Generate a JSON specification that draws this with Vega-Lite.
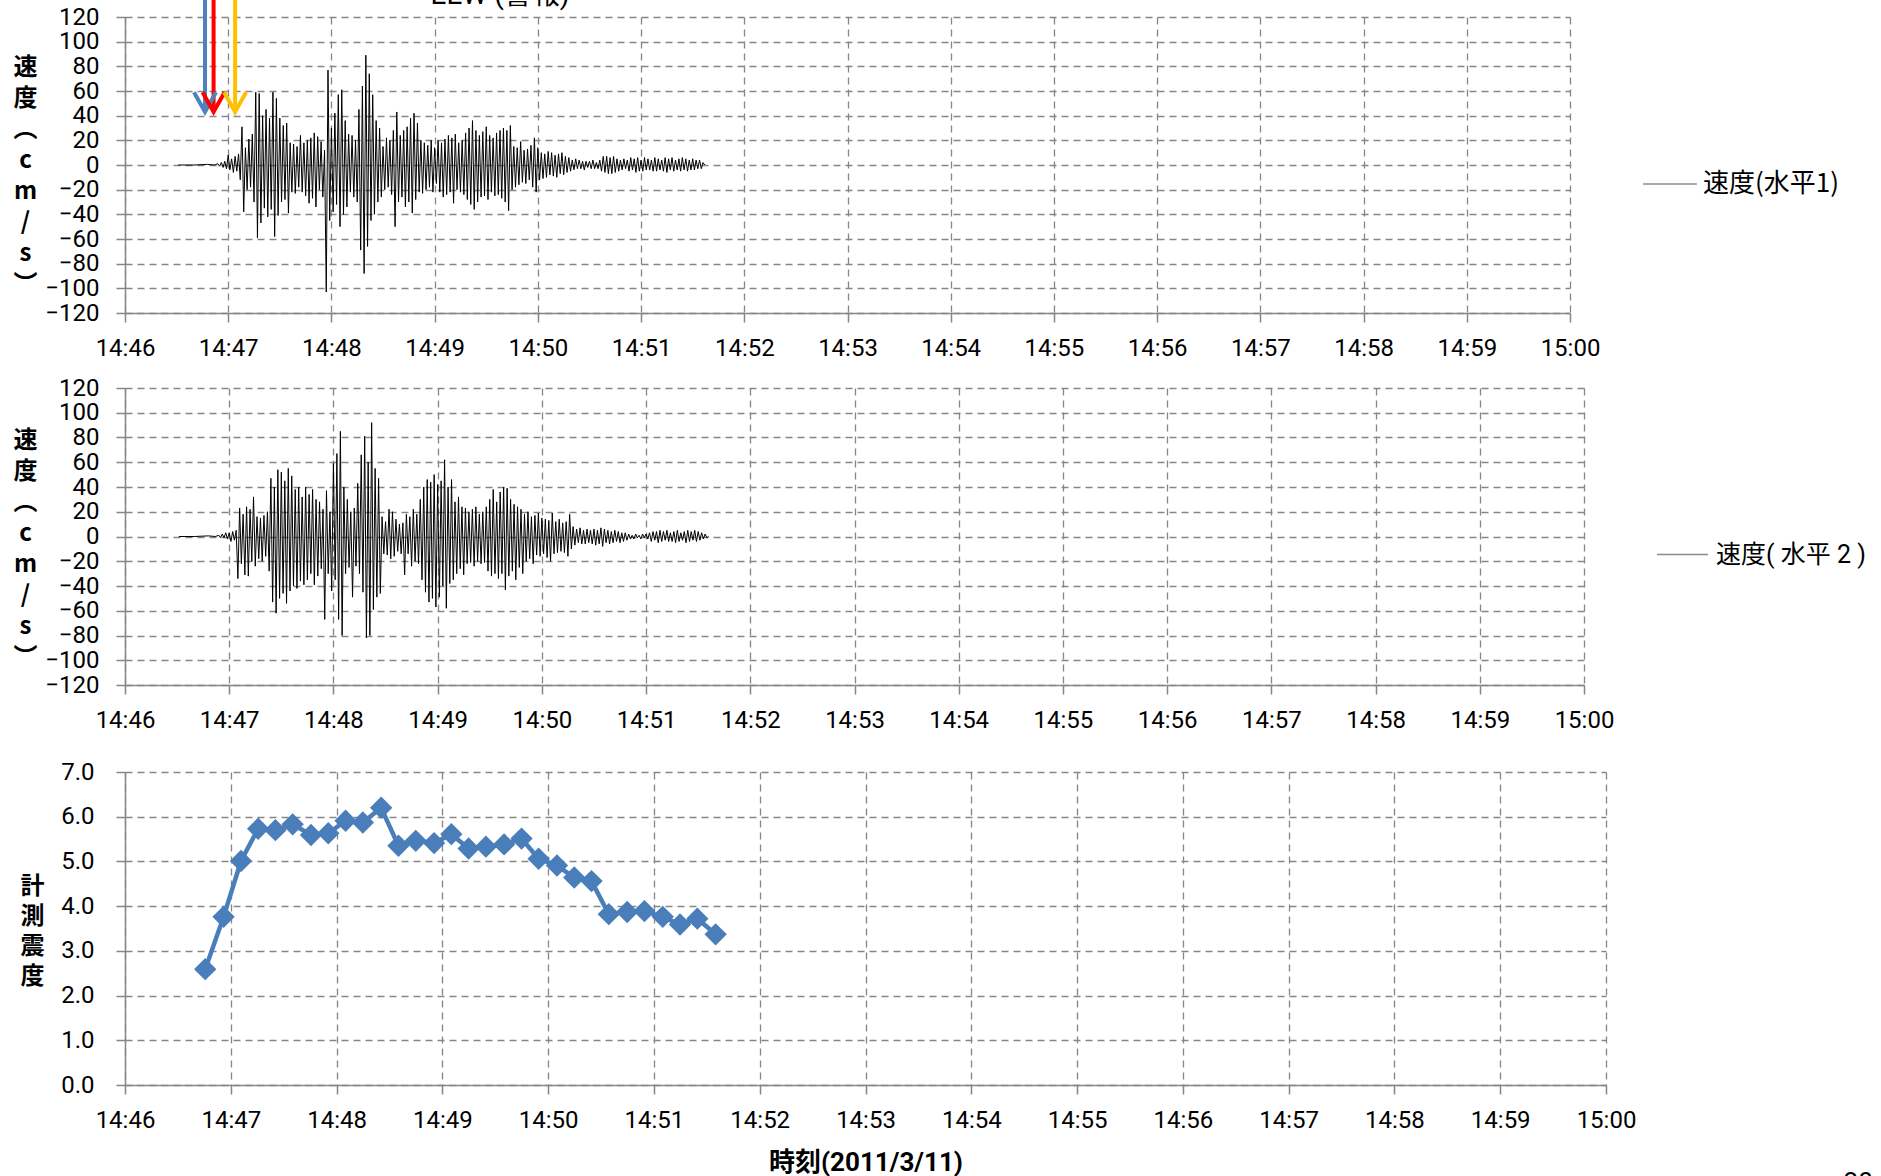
{
"$schema": "https://vega.github.io/schema/vega-lite/v6.json",
"padding": {"left": 13, "top": -35, "right": 0, "bottom": 0},
"spacing": 15,
"columns": 1,
"align": "none",
"datasets": {
"h1": [{"t":31,"v":0},{"t":40,"v":0},{"t":48,"v":0.5},{"t":52,"v":0},{"t":54,"v":1},{"t":55,"v":-1},{"t":56,"v":2},{"t":57,"v":-2},{"t":58,"v":3},{"t":59,"v":-3},{"t":60,"v":8},{"t":61,"v":-4},{"t":62,"v":5},{"t":63,"v":-6},{"t":64,"v":7},{"t":65,"v":-5},{"t":66,"v":9},{"t":67,"v":-12},{"t":68,"v":31},{"t":69,"v":-38},{"t":70,"v":14},{"t":71,"v":-20},{"t":72,"v":21},{"t":73,"v":-18},{"t":74,"v":25},{"t":75,"v":-30},{"t":76,"v":59},{"t":77,"v":-59},{"t":78,"v":58},{"t":79,"v":-47},{"t":80,"v":40},{"t":81,"v":-35},{"t":82,"v":45},{"t":83,"v":-42},{"t":84,"v":38},{"t":85,"v":-36},{"t":86,"v":59},{"t":87,"v":-58},{"t":88,"v":54},{"t":89,"v":-41},{"t":90,"v":38},{"t":91,"v":-30},{"t":92,"v":32},{"t":93,"v":-28},{"t":94,"v":34},{"t":95,"v":-39},{"t":96,"v":18},{"t":97,"v":-22},{"t":98,"v":17},{"t":99,"v":-23},{"t":100,"v":15},{"t":101,"v":-18},{"t":102,"v":24},{"t":103,"v":-22},{"t":104,"v":18},{"t":105,"v":-25},{"t":106,"v":20},{"t":107,"v":-31},{"t":108,"v":22},{"t":109,"v":-27},{"t":110,"v":26},{"t":111,"v":-34},{"t":112,"v":23},{"t":113,"v":-20},{"t":114,"v":19},{"t":115,"v":-26},{"t":116,"v":12},{"t":117,"v":-103},{"t":118,"v":77},{"t":119,"v":-45},{"t":120,"v":30},{"t":121,"v":-38},{"t":122,"v":42},{"t":123,"v":-32},{"t":124,"v":57},{"t":125,"v":-50},{"t":126,"v":61},{"t":127,"v":-40},{"t":128,"v":36},{"t":129,"v":-34},{"t":130,"v":25},{"t":131,"v":-22},{"t":132,"v":24},{"t":133,"v":-26},{"t":134,"v":20},{"t":135,"v":-30},{"t":136,"v":45},{"t":137,"v":-69},{"t":138,"v":64},{"t":139,"v":-88},{"t":140,"v":89},{"t":141,"v":-66},{"t":142,"v":74},{"t":143,"v":-45},{"t":144,"v":57},{"t":145,"v":-40},{"t":146,"v":36},{"t":147,"v":-30},{"t":148,"v":30},{"t":149,"v":-26},{"t":150,"v":15},{"t":151,"v":-20},{"t":152,"v":22},{"t":153,"v":-18},{"t":154,"v":20},{"t":155,"v":-24},{"t":156,"v":28},{"t":157,"v":-50},{"t":158,"v":43},{"t":159,"v":-30},{"t":160,"v":24},{"t":161,"v":-26},{"t":162,"v":28},{"t":163,"v":-34},{"t":164,"v":31},{"t":165,"v":-30},{"t":166,"v":38},{"t":167,"v":-39},{"t":168,"v":42},{"t":169,"v":-28},{"t":170,"v":34},{"t":171,"v":-22},{"t":172,"v":20},{"t":173,"v":-23},{"t":174,"v":18},{"t":175,"v":-20},{"t":176,"v":16},{"t":177,"v":-18},{"t":178,"v":20},{"t":179,"v":-22},{"t":180,"v":14},{"t":181,"v":-15},{"t":182,"v":20},{"t":183,"v":-22},{"t":184,"v":18},{"t":185,"v":-26},{"t":186,"v":21},{"t":187,"v":-24},{"t":188,"v":24},{"t":189,"v":-22},{"t":190,"v":22},{"t":191,"v":-31},{"t":192,"v":25},{"t":193,"v":-20},{"t":194,"v":18},{"t":195,"v":-22},{"t":196,"v":20},{"t":197,"v":-24},{"t":198,"v":26},{"t":199,"v":-28},{"t":200,"v":30},{"t":201,"v":-32},{"t":202,"v":36},{"t":203,"v":-36},{"t":204,"v":28},{"t":205,"v":-30},{"t":206,"v":24},{"t":207,"v":-26},{"t":208,"v":27},{"t":209,"v":-25},{"t":210,"v":31},{"t":211,"v":-28},{"t":212,"v":24},{"t":213,"v":-22},{"t":214,"v":22},{"t":215,"v":-25},{"t":216,"v":26},{"t":217,"v":-24},{"t":218,"v":28},{"t":219,"v":-27},{"t":220,"v":30},{"t":221,"v":-30},{"t":222,"v":28},{"t":223,"v":-37},{"t":224,"v":32},{"t":225,"v":-20},{"t":226,"v":15},{"t":227,"v":-18},{"t":228,"v":14},{"t":229,"v":-16},{"t":230,"v":19},{"t":231,"v":-14},{"t":232,"v":12},{"t":233,"v":-15},{"t":234,"v":13},{"t":235,"v":-12},{"t":236,"v":16},{"t":237,"v":-18},{"t":238,"v":22},{"t":239,"v":-22},{"t":240,"v":14},{"t":241,"v":-12},{"t":242,"v":10},{"t":243,"v":-11},{"t":244,"v":9},{"t":245,"v":-10},{"t":246,"v":11},{"t":247,"v":-8},{"t":248,"v":10},{"t":249,"v":-9},{"t":250,"v":8},{"t":251,"v":-10},{"t":252,"v":9},{"t":253,"v":-7},{"t":254,"v":10},{"t":255,"v":-8},{"t":256,"v":7},{"t":257,"v":-6},{"t":258,"v":6},{"t":259,"v":-5},{"t":260,"v":4},{"t":261,"v":-4},{"t":262,"v":5},{"t":263,"v":-3},{"t":264,"v":4},{"t":265,"v":-3},{"t":266,"v":3},{"t":267,"v":-4},{"t":268,"v":3},{"t":269,"v":-2},{"t":270,"v":3},{"t":271,"v":-3},{"t":272,"v":4},{"t":273,"v":-3},{"t":274,"v":2},{"t":275,"v":-3},{"t":276,"v":4},{"t":277,"v":-5},{"t":278,"v":7},{"t":279,"v":-6},{"t":280,"v":7},{"t":281,"v":-7},{"t":282,"v":6},{"t":283,"v":-7},{"t":284,"v":7},{"t":285,"v":-6},{"t":286,"v":5},{"t":287,"v":-5},{"t":288,"v":4},{"t":289,"v":-4},{"t":290,"v":5},{"t":291,"v":-3},{"t":292,"v":4},{"t":293,"v":-5},{"t":294,"v":6},{"t":295,"v":-4},{"t":296,"v":5},{"t":297,"v":-6},{"t":298,"v":6},{"t":299,"v":-5},{"t":300,"v":4},{"t":301,"v":-5},{"t":302,"v":6},{"t":303,"v":-4},{"t":304,"v":5},{"t":305,"v":-4},{"t":306,"v":4},{"t":307,"v":-5},{"t":308,"v":6},{"t":309,"v":-5},{"t":310,"v":5},{"t":311,"v":-4},{"t":312,"v":4},{"t":313,"v":-5},{"t":314,"v":6},{"t":315,"v":-6},{"t":316,"v":5},{"t":317,"v":-4},{"t":318,"v":6},{"t":319,"v":-5},{"t":320,"v":4},{"t":321,"v":-4},{"t":322,"v":5},{"t":323,"v":-5},{"t":324,"v":6},{"t":325,"v":-4},{"t":326,"v":5},{"t":327,"v":-5},{"t":328,"v":4},{"t":329,"v":-4},{"t":330,"v":5},{"t":331,"v":-4},{"t":332,"v":4},{"t":333,"v":-3},{"t":334,"v":4},{"t":335,"v":-3},{"t":336,"v":2},{"t":337,"v":0}],
"h2": [{"t":31,"v":0},{"t":40,"v":0},{"t":48,"v":0.5},{"t":52,"v":0},{"t":54,"v":1},{"t":55,"v":-1},{"t":56,"v":2},{"t":57,"v":-1},{"t":58,"v":3},{"t":59,"v":-2},{"t":60,"v":3},{"t":61,"v":-4},{"t":62,"v":4},{"t":63,"v":-3},{"t":64,"v":5},{"t":65,"v":-34},{"t":66,"v":23},{"t":67,"v":-22},{"t":68,"v":18},{"t":69,"v":-31},{"t":70,"v":24},{"t":71,"v":-32},{"t":72,"v":22},{"t":73,"v":-20},{"t":74,"v":32},{"t":75,"v":-24},{"t":76,"v":16},{"t":77,"v":-18},{"t":78,"v":15},{"t":79,"v":-20},{"t":80,"v":17},{"t":81,"v":-16},{"t":82,"v":20},{"t":83,"v":-28},{"t":84,"v":47},{"t":85,"v":-53},{"t":86,"v":40},{"t":87,"v":-62},{"t":88,"v":54},{"t":89,"v":-50},{"t":90,"v":52},{"t":91,"v":-46},{"t":92,"v":45},{"t":93,"v":-54},{"t":94,"v":55},{"t":95,"v":-44},{"t":96,"v":49},{"t":97,"v":-40},{"t":98,"v":38},{"t":99,"v":-42},{"t":100,"v":40},{"t":101,"v":-36},{"t":102,"v":32},{"t":103,"v":-39},{"t":104,"v":40},{"t":105,"v":-35},{"t":106,"v":34},{"t":107,"v":-30},{"t":108,"v":38},{"t":109,"v":-39},{"t":110,"v":30},{"t":111,"v":-32},{"t":112,"v":28},{"t":113,"v":-26},{"t":114,"v":22},{"t":115,"v":-67},{"t":116,"v":37},{"t":117,"v":-30},{"t":118,"v":20},{"t":119,"v":-44},{"t":120,"v":59},{"t":121,"v":-35},{"t":122,"v":67},{"t":123,"v":-67},{"t":124,"v":85},{"t":125,"v":-80},{"t":126,"v":40},{"t":127,"v":-30},{"t":128,"v":30},{"t":129,"v":-25},{"t":130,"v":20},{"t":131,"v":-49},{"t":132,"v":23},{"t":133,"v":-24},{"t":134,"v":43},{"t":135,"v":-30},{"t":136,"v":66},{"t":137,"v":-45},{"t":138,"v":81},{"t":139,"v":-82},{"t":140,"v":60},{"t":141,"v":-80},{"t":142,"v":92},{"t":143,"v":-59},{"t":144,"v":55},{"t":145,"v":-49},{"t":146,"v":47},{"t":147,"v":-46},{"t":148,"v":16},{"t":149,"v":-14},{"t":150,"v":12},{"t":151,"v":-15},{"t":152,"v":22},{"t":153,"v":-18},{"t":154,"v":20},{"t":155,"v":-16},{"t":156,"v":14},{"t":157,"v":-12},{"t":158,"v":10},{"t":159,"v":-14},{"t":160,"v":11},{"t":161,"v":-31},{"t":162,"v":18},{"t":163,"v":-14},{"t":164,"v":16},{"t":165,"v":-24},{"t":166,"v":22},{"t":167,"v":-20},{"t":168,"v":18},{"t":169,"v":-22},{"t":170,"v":30},{"t":171,"v":-35},{"t":172,"v":40},{"t":173,"v":-45},{"t":174,"v":46},{"t":175,"v":-53},{"t":176,"v":44},{"t":177,"v":-50},{"t":178,"v":50},{"t":179,"v":-57},{"t":180,"v":42},{"t":181,"v":-49},{"t":182,"v":45},{"t":183,"v":-40},{"t":184,"v":62},{"t":185,"v":-58},{"t":186,"v":40},{"t":187,"v":-38},{"t":188,"v":46},{"t":189,"v":-35},{"t":190,"v":28},{"t":191,"v":-30},{"t":192,"v":32},{"t":193,"v":-26},{"t":194,"v":24},{"t":195,"v":-31},{"t":196,"v":23},{"t":197,"v":-22},{"t":198,"v":20},{"t":199,"v":-21},{"t":200,"v":22},{"t":201,"v":-24},{"t":202,"v":24},{"t":203,"v":-20},{"t":204,"v":18},{"t":205,"v":-22},{"t":206,"v":20},{"t":207,"v":-21},{"t":208,"v":24},{"t":209,"v":-28},{"t":210,"v":30},{"t":211,"v":-32},{"t":212,"v":38},{"t":213,"v":-30},{"t":214,"v":28},{"t":215,"v":-34},{"t":216,"v":36},{"t":217,"v":-30},{"t":218,"v":40},{"t":219,"v":-43},{"t":220,"v":39},{"t":221,"v":-32},{"t":222,"v":30},{"t":223,"v":-28},{"t":224,"v":26},{"t":225,"v":-35},{"t":226,"v":24},{"t":227,"v":-25},{"t":228,"v":22},{"t":229,"v":-30},{"t":230,"v":18},{"t":231,"v":-20},{"t":232,"v":20},{"t":233,"v":-18},{"t":234,"v":16},{"t":235,"v":-22},{"t":236,"v":17},{"t":237,"v":-15},{"t":238,"v":19},{"t":239,"v":-16},{"t":240,"v":15},{"t":241,"v":-14},{"t":242,"v":14},{"t":243,"v":-17},{"t":244,"v":13},{"t":245,"v":-20},{"t":246,"v":19},{"t":247,"v":-14},{"t":248,"v":12},{"t":249,"v":-13},{"t":250,"v":14},{"t":251,"v":-12},{"t":252,"v":11},{"t":253,"v":-13},{"t":254,"v":12},{"t":255,"v":-16},{"t":256,"v":18},{"t":257,"v":-10},{"t":258,"v":8},{"t":259,"v":-7},{"t":260,"v":6},{"t":261,"v":-5},{"t":262,"v":7},{"t":263,"v":-6},{"t":264,"v":5},{"t":265,"v":-6},{"t":266,"v":6},{"t":267,"v":-5},{"t":268,"v":5},{"t":269,"v":-6},{"t":270,"v":6},{"t":271,"v":-7},{"t":272,"v":5},{"t":273,"v":-6},{"t":274,"v":7},{"t":275,"v":-8},{"t":276,"v":6},{"t":277,"v":-5},{"t":278,"v":5},{"t":279,"v":-6},{"t":280,"v":4},{"t":281,"v":-5},{"t":282,"v":5},{"t":283,"v":-4},{"t":284,"v":4},{"t":285,"v":-5},{"t":286,"v":3},{"t":287,"v":-4},{"t":288,"v":3},{"t":289,"v":-3},{"t":290,"v":2},{"t":291,"v":-2},{"t":292,"v":1},{"t":293,"v":-2},{"t":294,"v":2},{"t":295,"v":-1},{"t":296,"v":1},{"t":297,"v":-2},{"t":298,"v":2},{"t":299,"v":-1},{"t":300,"v":2},{"t":301,"v":-2},{"t":302,"v":3},{"t":303,"v":-4},{"t":304,"v":4},{"t":305,"v":-3},{"t":306,"v":4},{"t":307,"v":-5},{"t":308,"v":5},{"t":309,"v":-4},{"t":310,"v":4},{"t":311,"v":-3},{"t":312,"v":5},{"t":313,"v":-4},{"t":314,"v":3},{"t":315,"v":-4},{"t":316,"v":4},{"t":317,"v":-5},{"t":318,"v":5},{"t":319,"v":-4},{"t":320,"v":3},{"t":321,"v":-3},{"t":322,"v":4},{"t":323,"v":-5},{"t":324,"v":5},{"t":325,"v":-4},{"t":326,"v":4},{"t":327,"v":-3},{"t":328,"v":5},{"t":329,"v":-4},{"t":330,"v":4},{"t":331,"v":-3},{"t":332,"v":3},{"t":333,"v":-2},{"t":334,"v":2},{"t":335,"v":-1},{"t":336,"v":0}],
"si": [{"t":45.5,"v":2.59},{"t":55.9,"v":3.76},{"t":65.8,"v":5.01},{"t":75.5,"v":5.73},{"t":85.3,"v":5.70},{"t":95.1,"v":5.83},{"t":105.5,"v":5.59},{"t":115.3,"v":5.63},{"t":125.1,"v":5.91},{"t":134.9,"v":5.87},{"t":145.3,"v":6.20},{"t":155.1,"v":5.35},{"t":164.9,"v":5.46},{"t":175.3,"v":5.41},{"t":185.1,"v":5.61},{"t":194.9,"v":5.29},{"t":204.7,"v":5.33},{"t":215.0,"v":5.38},{"t":224.9,"v":5.51},{"t":234.6,"v":5.06},{"t":245.0,"v":4.91},{"t":254.8,"v":4.64},{"t":264.6,"v":4.56},{"t":274.4,"v":3.82},{"t":284.8,"v":3.87},{"t":294.6,"v":3.89},{"t":305.0,"v":3.76},{"t":314.8,"v":3.59},{"t":324.6,"v":3.72},{"t":335.0,"v":3.37}],
"eew": [{"t":46.5,"k":"a"},{"t":51.5,"k":"b"},{"t":64,"k":"c"}],
"note": [{"t":218,"label":"EEW (警報)"}],
"page": [{"t":983,"v":-1.9,"label":"20"}]
},
"concat": [
{
"width": 1445, "height": 296,
"layer": [
{"data": {"name": "h1"}, "mark": {"type": "line", "strokeWidth": 1},
"encoding": {
"x": {"field": "t", "type": "quantitative", "scale": {"domain": [0, 840], "nice": false, "zero": false},
"axis": {"values": [0,60,120,180,240,300,360,420,480,540,600,660,720,780,840], "labelExpr": "datum.value >= 840 ? '15:00' : '14:' + (46 + datum.value / 60)", "title": null, "labelPadding": 14.5, "labelOverlap": false, "labelFlush": false}},
"y": {"field": "v", "type": "quantitative", "scale": {"domain": [-120, 120], "nice": false, "zero": false},
"axis": {"values": [-120,-100,-80,-60,-40,-20,0,20,40,60,80,100,120], "labelOverlap": false, "title": ["速","度","︵","c","m","/","s","︶"], "titleAngle": 0, "titleAlign": "center", "titleBaseline": "top", "titleX": -100, "titleY": 38, "titleLineHeight": 31, "titleFontSize": 24, "labelPadding": 17}},
"color": {"datum": "速度(水平1)", "type": "nominal", "scale": {"range": ["#000000"]},
"legend": {"orient": "none", "legendX": 1517, "legendY": 139, "title": null, "symbolType": "stroke", "symbolSize": 2900, "symbolStrokeWidth": 1.3, "symbolOpacity": 0.45, "labelFont": "Noto Sans CJK JP", "labelFontSize": 26, "labelOffset": 5, "labelLimit": 500, "padding": 0}}
}},
{"data": {"name": "eew"}, "mark": {"type": "rule", "strokeWidth": 4},
"encoding": {
"x": {"field": "t", "type": "quantitative",
"axis": {"values": [0,60,120,180,240,300,360,420,480,540,600,660,720,780,840], "labelExpr": "datum.value >= 840 ? '15:00' : '14:' + (46 + datum.value / 60)", "title": null, "labelPadding": 14.5, "labelOverlap": false, "labelFlush": false}},
"y": {"datum": 160, "type": "quantitative",
"axis": {"values": [-120,-100,-80,-60,-40,-20,0,20,40,60,80,100,120], "labelOverlap": false, "title": ["速","度","︵","c","m","/","s","︶"], "titleAngle": 0, "titleAlign": "center", "titleBaseline": "top", "titleX": -100, "titleY": 38, "titleLineHeight": 31, "titleFontSize": 24, "labelPadding": 17}},
"y2": {"datum": 44},
"stroke": {"field": "k", "type": "nominal", "scale": {"domain": ["a","b","c"], "range": ["#4F81BD","#FF0000","#FFC000"]}, "legend": null}
}},
{"data": {"name": "eew"}, "mark": {"type": "point", "shape": "M -1 -0.9 L 0 0.9 L 1 -0.9", "filled": false, "size": 484, "strokeWidth": 4, "opacity": 1},
"encoding": {
"x": {"field": "t", "type": "quantitative",
"axis": {"values": [0,60,120,180,240,300,360,420,480,540,600,660,720,780,840], "labelExpr": "datum.value >= 840 ? '15:00' : '14:' + (46 + datum.value / 60)", "title": null, "labelPadding": 14.5, "labelOverlap": false, "labelFlush": false}},
"y": {"datum": 51, "type": "quantitative",
"axis": {"values": [-120,-100,-80,-60,-40,-20,0,20,40,60,80,100,120], "labelOverlap": false, "title": ["速","度","︵","c","m","/","s","︶"], "titleAngle": 0, "titleAlign": "center", "titleBaseline": "top", "titleX": -100, "titleY": 38, "titleLineHeight": 31, "titleFontSize": 24, "labelPadding": 17}},
"stroke": {"field": "k", "type": "nominal", "legend": null}
}},
{"data": {"name": "note"}, "mark": {"type": "text", "fontSize": 28, "font": "Roboto, Noto Sans CJK JP", "baseline": "alphabetic", "color": "#000"},
"encoding": {
"x": {"field": "t", "type": "quantitative",
"axis": {"values": [0,60,120,180,240,300,360,420,480,540,600,660,720,780,840], "labelExpr": "datum.value >= 840 ? '15:00' : '14:' + (46 + datum.value / 60)", "title": null, "labelPadding": 14.5, "labelOverlap": false, "labelFlush": false}},
"y": {"datum": 130.5, "type": "quantitative",
"axis": {"values": [-120,-100,-80,-60,-40,-20,0,20,40,60,80,100,120], "labelOverlap": false, "title": ["速","度","︵","c","m","/","s","︶"], "titleAngle": 0, "titleAlign": "center", "titleBaseline": "top", "titleX": -100, "titleY": 38, "titleLineHeight": 31, "titleFontSize": 24, "labelPadding": 17}},
"text": {"field": "label"}
}}
]
},
{
"width": 1459, "height": 297,
"data": {"name": "h2"},
"mark": {"type": "line", "strokeWidth": 1},
"encoding": {
"x": {"field": "t", "type": "quantitative", "scale": {"domain": [0, 840], "nice": false, "zero": false},
"axis": {"values": [0,60,120,180,240,300,360,420,480,540,600,660,720,780,840], "labelExpr": "datum.value >= 840 ? '15:00' : '14:' + (46 + datum.value / 60)", "title": " ", "titleFontSize": 13.2, "titlePadding": 0, "labelPadding": 14.5, "labelOverlap": false, "labelFlush": false}},
"y": {"field": "v", "type": "quantitative", "scale": {"domain": [-120, 120], "nice": false, "zero": false},
"axis": {"values": [-120,-100,-80,-60,-40,-20,0,20,40,60,80,100,120], "labelOverlap": false, "title": ["速","度","︵","c","m","/","s","︶"], "titleAngle": 0, "titleAlign": "center", "titleBaseline": "top", "titleX": -100, "titleY": 40, "titleLineHeight": 31, "titleFontSize": 24, "labelPadding": 17}},
"color": {"datum": "速度( 水平 2 )", "type": "nominal", "scale": {"range": ["#000000"]},
"legend": {"orient": "none", "legendX": 1531, "legendY": 140, "title": null, "symbolType": "stroke", "symbolSize": 2600, "symbolStrokeWidth": 1.3, "symbolOpacity": 0.45, "labelFont": "Roboto, Noto Sans CJK JP", "labelFontSize": 25, "labelOffset": 7, "labelLimit": 500, "padding": 0}}
}
},
{
"width": 1481, "height": 313,
"layer": [
{"data": {"name": "si"}, "mark": {"type": "line", "color": "#4A7EBB", "strokeWidth": 4.5, "point": {"shape": "diamond", "size": 500, "filled": true, "color": "#4A7EBB"}},
"encoding": {
"x": {"field": "t", "type": "quantitative", "scale": {"domain": [0, 840], "nice": false, "zero": false},
"axis": {"values": [0,60,120,180,240,300,360,420,480,540,600,660,720,780,840], "labelExpr": "datum.value >= 840 ? '15:00' : '14:' + (46 + datum.value / 60)", "title": "時刻(2011/3/11)", "titleFont": "Roboto, Noto Sans CJK JP", "titleFontSize": 26, "titleY": 77, "titleBaseline": "middle", "labelPadding": 14.5, "labelOverlap": false, "labelFlush": false}},
"y": {"field": "v", "type": "quantitative", "scale": {"domain": [0, 7], "nice": false, "zero": false},
"axis": {"values": [0,1,2,3,4,5,6,7], "format": ".1f", "labelOverlap": false, "title": ["計","測","震","度"], "titleAngle": 0, "titleAlign": "center", "titleBaseline": "top", "titleX": -93, "titleY": 102, "titleLineHeight": 30, "titleFontSize": 24, "labelPadding": 22}}
}},
{"data": {"name": "page"}, "mark": {"type": "text", "fontSize": 26, "font": "Roboto", "baseline": "top", "color": "#000"},
"encoding": {
"x": {"field": "t", "type": "quantitative",
"axis": {"values": [0,60,120,180,240,300,360,420,480,540,600,660,720,780,840], "labelExpr": "datum.value >= 840 ? '15:00' : '14:' + (46 + datum.value / 60)", "title": "時刻(2011/3/11)", "titleFont": "Roboto, Noto Sans CJK JP", "titleFontSize": 26, "titleY": 77, "titleBaseline": "middle", "labelPadding": 14.5, "labelOverlap": false, "labelFlush": false}},
"y": {"field": "v", "type": "quantitative",
"axis": {"values": [0,1,2,3,4,5,6,7], "format": ".1f", "labelOverlap": false, "title": ["計","測","震","度"], "titleAngle": 0, "titleAlign": "center", "titleBaseline": "top", "titleX": -93, "titleY": 102, "titleLineHeight": 30, "titleFontSize": 24, "labelPadding": 22}},
"text": {"field": "label"}
}}
]
}
],
"resolve": {"scale": {"color": "independent", "stroke": "independent"}, "legend": {"color": "independent"}},
"config": {
"view": {"stroke": null},
"font": "Roboto",
"axis": {
"domainColor": "#868686", "domainWidth": 1.5,
"tickColor": "#868686", "tickWidth": 1.5, "tickSize": 9,
"gridColor": "#868686", "gridDash": [7, 5], "gridWidth": 1.3, "gridOpacity": 1,
"labelFont": "Roboto", "labelFontSize": 24, "labelColor": "#000000",
"titleFont": "Noto Sans CJK JP", "titleFontWeight": "bold", "titleColor": "#000000",
"labelOverlap": false, "labelFlush": false
},
"legend": {"labelColor": "#000000"}
}
}
